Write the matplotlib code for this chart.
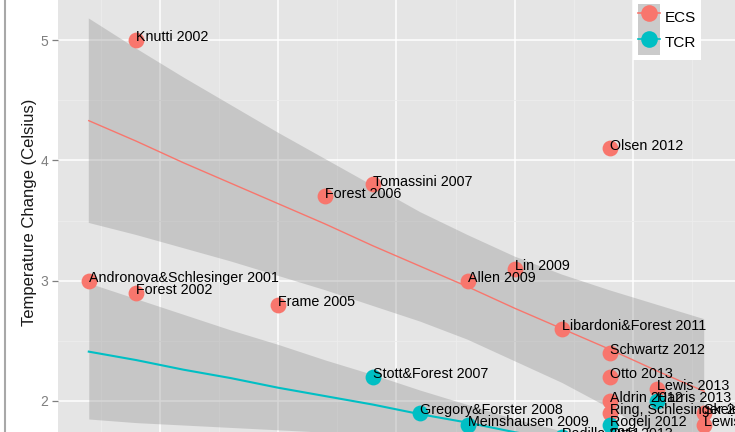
import matplotlib
matplotlib.use("Agg")
import matplotlib.pyplot as plt
from matplotlib.patches import Patch
from matplotlib.lines import Line2D

plt.rcParams['font.family'] = ['Liberation Sans', 'DejaVu Sans']

# ---- data ----
ecs_names = ["Andronova&Schlesinger 2001", "Knutti 2002", "Forest 2002", "Frame 2005",
             "Forest 2006", "Tomassini 2007", "Allen 2009", "Lin 2009",
             "Libardoni&Forest 2011", "Olsen 2012", "Schwartz 2012", "Otto 2013",
             "Lewis 2013", "Aldrin 2012", "Ring, Schlesinger 2012", "Skeie 2014", "Lewis 2014"]
ecs_year = [2001, 2002, 2002, 2005, 2006, 2007, 2009, 2010, 2011, 2012, 2012, 2012,
            2013, 2012, 2012, 2014, 2014]
ecs_temp = [3.0, 5.0, 2.9, 2.8, 3.7, 3.8, 3.0, 3.1, 2.6, 4.1, 2.4, 2.2,
            2.1, 2.0, 1.9, 1.9, 1.8]

tcr_names = ["Stott&Forest 2007", "Gregory&Forster 2008", "Meinshausen 2009",
             "Padilla 2011", "Rogelj 2012", "Otto 2013", "Harris 2013"]
tcr_year = [2007, 2008, 2009, 2011, 2012, 2012, 2013]
tcr_temp = [2.2, 1.9, 1.8, 1.7, 1.8, 1.7, 2.0]

# smoothing (linear fit) and confidence band, read at each year
fit_year = [2001, 2002, 2003, 2004, 2005, 2006, 2007, 2008, 2009, 2010, 2011, 2012, 2013, 2014]
ecs_fit = [4.33, 4.16, 3.98, 3.81, 3.64, 3.47, 3.29, 3.12, 2.95, 2.77, 2.60, 2.43, 2.25, 2.08]
ecs_hi = [5.18, 4.93, 4.69, 4.46, 4.23, 4.01, 3.79, 3.57, 3.38, 3.20, 3.05, 2.92, 2.80, 2.68]
ecs_lo = [3.48, 3.38, 3.27, 3.16, 3.04, 2.92, 2.79, 2.66, 2.51, 2.33, 2.15, 1.94, 1.71, 1.48]
tcr_fit = [2.41, 2.34, 2.26, 2.19, 2.11, 2.04, 1.97, 1.89, 1.82, 1.74, 1.67, 1.60, 1.52, 1.45]
tcr_hi = [2.98, 2.85, 2.72, 2.59, 2.47, 2.34, 2.22, 2.09, 1.97, 1.85, 1.75, 1.68, 1.64, 1.61]
tcr_lo = [1.85, 1.82, 1.80, 1.78, 1.76, 1.74, 1.72, 1.69, 1.67, 1.63, 1.59, 1.51, 1.40, 1.29]

legend_labels = ["ECS", "TCR"]
y_ticks = [2, 3, 4, 5]
y_label = "Temperature Change (Celsius)"

# ---- styling ----
RED = "#F8766D"
TEAL = "#00BFC4"
PANEL = "#E5E5E5"

fig = plt.figure(figsize=(7.35, 4.32), dpi=100)
ax = fig.add_axes([58 / 735, 0, 1 - 58 / 735, 1])
ax.set_facecolor(PANEL)
for s in ax.spines.values():
    s.set_visible(False)

ax.set_xlim(2000.35, 2014.65)
ax.set_ylim(1.742, 5.333)

# grid
ax.set_xticks([2002.5, 2005, 2007.5, 2010, 2012.5])
ax.set_xticks([2001.25, 2003.75, 2006.25, 2008.75, 2011.25, 2013.75], minor=True)
ax.set_yticks(y_ticks)
ax.set_yticks([2.5, 3.5, 4.5], minor=True)
ax.grid(which='major', color='white', linewidth=1.1)
ax.grid(which='minor', color='#EDEDED', linewidth=0.6)
ax.set_axisbelow(True)
ax.tick_params(axis='x', which='both', length=0, labelbottom=False)
ax.tick_params(axis='y', which='minor', length=0)
ax.tick_params(axis='y', which='major', length=4, width=0.9, color='#7F7F7F',
               labelcolor='#7F7F7F', labelsize=10, pad=3)
ax.set_yticklabels([str(v) for v in y_ticks])

ax.set_ylabel(y_label, fontsize=12, color='#1A1A1A')
ax.yaxis.set_label_coords(-0.031, 0.509)

# ribbons and fit lines
ax.fill_between(fit_year, ecs_lo, ecs_hi, color='#999999', alpha=0.4, linewidth=0, zorder=1)
ax.fill_between(fit_year, tcr_lo, tcr_hi, color='#999999', alpha=0.4, linewidth=0, zorder=1)
ax.plot(fit_year, ecs_fit, color=RED, linewidth=1.0, zorder=2)
ax.plot(fit_year, tcr_fit, color=TEAL, linewidth=1.5, zorder=2)

# points
ax.scatter(ecs_year, ecs_temp, s=130, color=RED, linewidths=0, zorder=3)
ax.scatter(tcr_year, tcr_temp, s=130, color=TEAL, linewidths=0, zorder=3)

# labels
for n, x, y in list(zip(ecs_names, ecs_year, ecs_temp)) + list(zip(tcr_names, tcr_year, tcr_temp)):
    ax.annotate(n, (x, y), xytext=(0, 2), textcoords='offset points',
                ha='left', va='center', fontsize=10.3, color='black', zorder=4,
                annotation_clip=False)

# legend
handles = []
for c in (RED, TEAL):
    handles.append((Patch(facecolor='#CBCBCB', edgecolor='none'),
                    Line2D([], [], color=c, linewidth=1.2, marker='o', markersize=12,
                           markeredgewidth=0)))
leg = fig.legend(handles, legend_labels, loc='lower left',
                 bbox_to_anchor=(633 / 735, 1 - 60 / 432), bbox_transform=fig.transFigure,
                 fontsize=11, frameon=True, fancybox=False, borderpad=0.3,
                 handlelength=1.44, handleheight=2.2, handletextpad=0.35,
                 labelspacing=0.0, borderaxespad=0)
leg.get_frame().set_facecolor('white')
leg.get_frame().set_edgecolor('none')
leg.get_frame().set_alpha(1)

# left image border line
fig.add_artist(Line2D([5 / 735, 5 / 735], [0, 1], transform=fig.transFigure,
                      color='#A8A8A8', linewidth=1.5))

fig.savefig("out.png", dpi=100)
